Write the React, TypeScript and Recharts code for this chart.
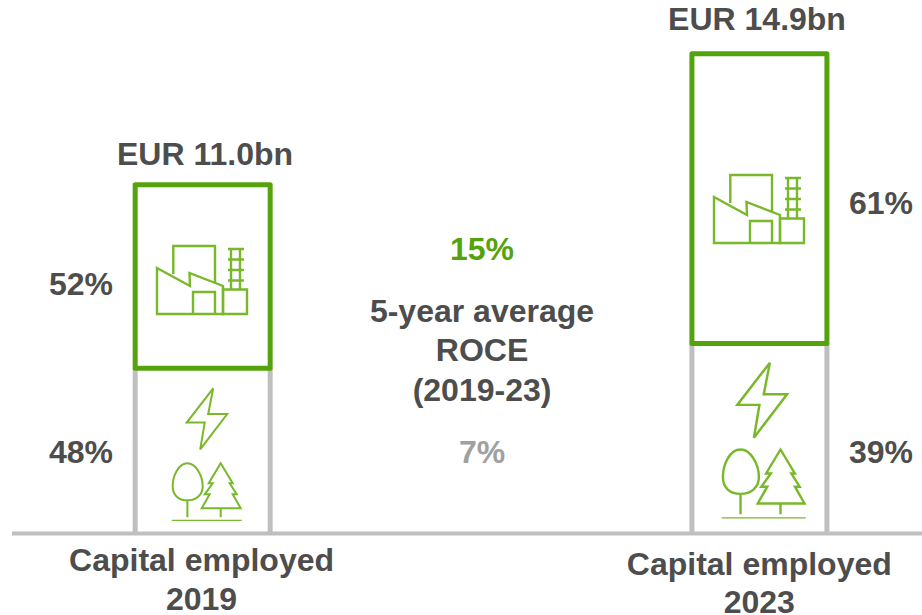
import { Bar, BarChart, XAxis, YAxis } from "recharts";

const years = [2019, 2023];
const tickLabels = ["Capital employed", "Capital employed"];
const totals = ["EUR 11.0bn", "EUR 14.9bn"];
// drawn heights of the two stacked parts, in EUR bn
const fossilValues = [5.74, 9.05];
const greenValues = [5.16, 5.94];
const fossilShare = ["52%", "61%"];
const greenShare = ["48%", "39%"];
const roceLines = ["5-year average", "ROCE", "(2019-23)"];
const roceGreen = "15%";
const roceGrey = "7%";

const data = years.map((year, i) => ({
  year,
  green: greenValues[i],
  fossil: fossilValues[i],
}));

const DARK = "#4D4D4D";
const GREEN = "#55A30C";
const ICON = "#78B82A";
const GREY = "#BFBFBF";
const FONT = "'Liberation Sans', Arial, sans-serif";

function Factory({ x, y }: { x: number; y: number }) {
  return (
    <g transform={`translate(${x} ${y})`} fill="none" stroke={ICON} strokeWidth={2.4}>
      <path d="M17.3 29V1H59V37" />
      <path d="M1 23L34 41L33.5 28L67 41V69H1Z" />
      <path d="M67 44.5H91V69H67Z" />
      <path d="M37 69V47H59V69" />
      <path d="M75 3V44.5M84 3V44.5" />
      <path d="M72 4H88M72 14.5H88M72 25H88M72 35.5H88" />
    </g>
  );
}

function Bolt({ x, y, scale }: { x: number; y: number; scale: number }) {
  return (
    <g transform={`translate(${x} ${y}) scale(${scale})`} fill="none" stroke={ICON} strokeWidth={2}>
      <path d="M26.5 0L21.5 25.7H40.5L13.5 61L18 34.3H0Z" />
    </g>
  );
}

function Trees({ x, y, scale }: { x: number; y: number; scale: number }) {
  return (
    <g transform={`translate(${x} ${y}) scale(${scale})`} fill="none" stroke={ICON} strokeWidth={2}>
      <path d="M15.7 1C7 1 1 13 1 24C1 33 7 38 15.7 38C24 38 31 33 31 24C31 13 24 1 15.7 1ZM15.7 38V55" />
      <path d="M49 1L61 21H58L65 32H61L69 46H30L38 32H33L41 21H37ZM49 46V55" />
      <path d="M0 58H70" strokeWidth={1.2} />
    </g>
  );
}

function FossilShape(props: any) {
  const { x, y, width, height, index } = props;
  return (
    <g>
      <rect
        x={x}
        y={y}
        width={width}
        height={height}
        fill="#fff"
        stroke={GREEN}
        strokeWidth={5}
        strokeLinejoin="round"
      />
      {index === 0 ? <Factory x={156} y={245} /> : <Factory x={713} y={174} />}
    </g>
  );
}

function GreenShape(props: any) {
  const { x, y, width, height, index } = props;
  return (
    <g>
      <path
        d={`M${x} ${y}V${y + height}M${x + width} ${y}V${y + height}`}
        stroke={GREY}
        strokeWidth={5}
        fill="none"
      />
      {index === 0 ? (
        <>
          <Bolt x={186.7} y={388.3} scale={1} />
          <Trees x={171.7} y={462.3} scale={1} />
        </>
      ) : (
        <>
          <Bolt x={737.3} y={362.7} scale={1.23} />
          <Trees x={721.7} y={448.3} scale={1.2} />
        </>
      )}
    </g>
  );
}

function YearTick(props: any) {
  const { x, payload, index } = props;
  const dx = index === 0 ? -1 : 0;
  const y1 = index === 0 ? 571 : 575;
  const y2 = index === 0 ? 610 : 613;
  return (
    <text fontFamily={FONT} fontWeight={700} fontSize={32} fill={DARK} textAnchor="middle">
      <tspan x={x + dx} y={y1}>
        {tickLabels[index]}
      </tspan>
      <tspan x={x + dx} y={y2}>
        {payload.value}
      </tspan>
    </text>
  );
}

function Note({ x, y, fill, children }: { x: number; y: number; fill?: string; children: string }) {
  return (
    <text
      x={x}
      y={y}
      fontFamily={FONT}
      fontWeight={700}
      fontSize={32}
      fill={fill ?? DARK}
      textAnchor="middle"
    >
      {children}
    </text>
  );
}

export default function App() {
  return (
    <div style={{ position: "absolute", left: 0, top: 0, width: 922, height: 615, background: "#fff" }}>
      <BarChart
        width={922}
        height={615}
        data={data}
        margin={{ top: 0, right: 0, bottom: 0, left: 12 }}
        barSize={135}
      >
        <XAxis
          dataKey="year"
          type="number"
          domain={[2017.631, 2024.169]}
          ticks={years}
          interval={0}
          height={81.5}
          tickLine={false}
          axisLine={{ stroke: GREY, strokeWidth: 4 }}
          tick={<YearTick />}
        />
        <YAxis hide domain={[0, 16.67]} />
        <Bar dataKey="green" stackId="capital" shape={<GreenShape />} isAnimationActive={false} />
        <Bar dataKey="fossil" stackId="capital" shape={<FossilShape />} isAnimationActive={false} />
        <Note x={205} y={165}>{totals[0]}</Note>
        <Note x={757} y={30}>{totals[1]}</Note>
        <Note x={81} y={295}>{fossilShare[0]}</Note>
        <Note x={81} y={463}>{greenShare[0]}</Note>
        <Note x={881} y={214}>{fossilShare[1]}</Note>
        <Note x={881} y={463}>{greenShare[1]}</Note>
        <Note x={482} y={260} fill={GREEN}>{roceGreen}</Note>
        <Note x={482} y={322}>{roceLines[0]}</Note>
        <Note x={482} y={361}>{roceLines[1]}</Note>
        <Note x={482} y={401}>{roceLines[2]}</Note>
        <Note x={482} y={463} fill="#A0A0A0">{roceGrey}</Note>
      </BarChart>
    </div>
  );
}
